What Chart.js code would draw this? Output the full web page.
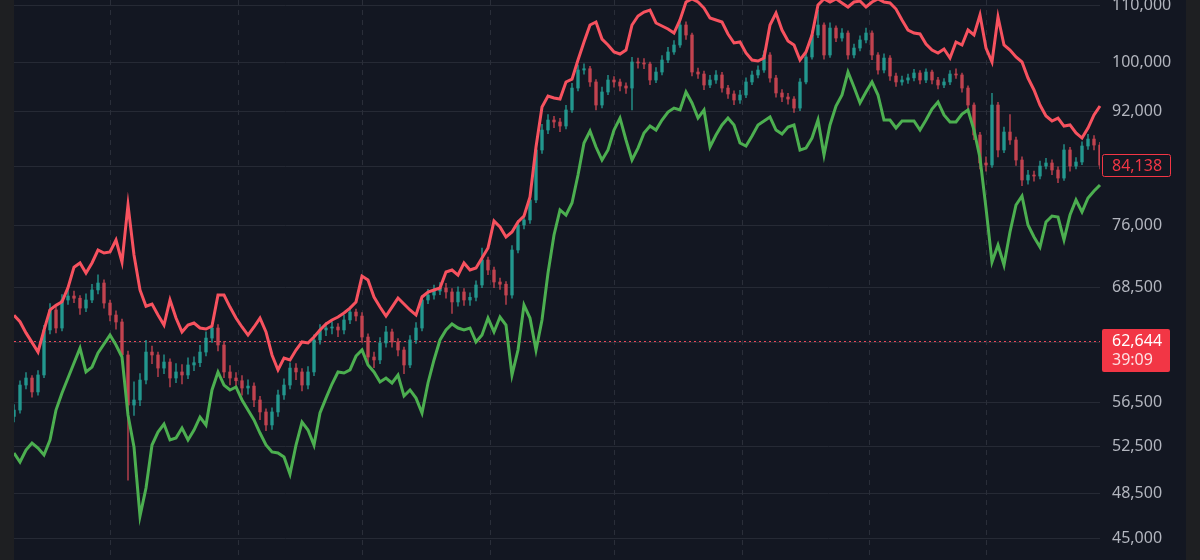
<!DOCTYPE html>
<html>
<head>
<meta charset="utf-8">
<script src="https://cdn.jsdelivr.net/npm/chart.js@4.4.1/dist/chart.umd.min.js"></script>
<style>
  html, body { margin: 0; padding: 0; width: 1200px; height: 560px; background: #1e1f22; overflow: hidden; }
  #wrap { position: absolute; left: 14px; top: 0; width: 1172px; height: 560px; background: #131722; }
</style>
</head>
<body>
<div id="wrap"><canvas id="chart"></canvas></div>
<script>
const upperBand = [
  65400, 64700, 63500, 62500, 61500, 63800, 66000, 66500, 66900, 68500,
  70900, 71400, 70200, 71400, 72970, 72600, 72730, 74200, 71500, 78700,
  72360, 68240, 66400, 66650, 65430, 64340, 67100, 65100, 63600, 64340,
  64560, 64020, 63910, 64230, 67660, 67660, 66310, 65100, 64130, 63270,
  64130, 65100, 63600, 61190, 59670, 60880, 60680, 61700, 62540, 62430,
  63060, 63810, 64450, 64890, 65210, 65650, 66200, 66880, 69850, 69390,
  67440, 66310, 65320, 66310, 67320, 66650, 65990, 65430, 67440, 68010,
  68240, 68460, 70330, 70560, 69970, 71400, 70560, 70800, 71990, 73210,
  76610, 75840, 74580, 75210, 76480, 77250, 79750, 86730, 92750, 94480,
  94160, 94000, 96730, 97200, 100360, 103440, 106430, 106970, 103950, 102920,
  101720, 101380, 102060, 106430, 108050, 108780, 109140, 106790, 106250, 105720,
  105010, 107330, 110620, 111200, 110620, 109500, 107680, 107330, 106970, 104840,
  103270, 103440, 101550, 100360, 100190, 100690, 106430, 108600, 105540, 103610,
  102920, 100360, 101720, 104660, 110060, 111200, 110620, 111200, 110430, 109690,
  110620, 110800, 109690, 110620, 111200, 110620, 110430, 109320, 107330, 105540,
  105010, 104840, 103090, 102060, 101550, 102230, 100690, 103440, 102920, 105540,
  104660, 108230, 102400, 100030, 107870, 102920, 102060, 100870, 100030, 97370,
  95440, 93060, 91360, 90600, 91050, 89840, 90000, 88800, 88050, 89540,
  91520, 92910
];

const lowerBand = [
  51910, 51130, 52170, 52790, 52350, 51740, 53060, 55790, 57410, 58870,
  60370, 61900, 59470, 59960, 61390, 62330, 63270, 62220, 60980, 55330,
  52430, 46700, 48950, 52610, 53770, 54500, 53060, 53230, 54130, 53060,
  53950, 55140, 54410, 57700, 59470, 58180, 57700, 57990, 56740, 55790,
  54870, 53680, 52610, 52000, 51910, 51560, 50110, 52610, 54680, 53950,
  52610, 55510, 56920, 58280, 59470, 59370, 59670, 61080, 61700, 60170,
  59470, 58480, 58870, 58380, 59170, 57120, 57700, 56920, 55510, 58380,
  60680, 62750, 63810, 64450, 64020, 63810, 64020, 62540, 63270, 65100,
  63600, 65210, 64340, 59170, 61700, 66540, 65100, 61700, 64890, 70210,
  74830, 78040, 77380, 78960, 82750, 87320, 89090, 86730, 84860, 86300,
  89240, 91050, 87760, 84860, 86580, 88800, 89840, 89240, 90750, 91980,
  92590, 92290, 95120, 93380, 91050, 92290, 86730, 88500, 90000, 91050,
  90000, 87320, 86880, 88350, 90000, 90600, 91210, 89240, 88650, 89690,
  90000, 86300, 86580, 88050, 90750, 85580, 90000, 92910, 94640, 98360,
  95910, 93380, 95120, 96730, 94640, 90750, 90750, 89540, 90600, 90600,
  90600, 89240, 90750, 92430, 93540, 91520, 90450, 90450, 91670, 92290,
  89240, 85140, 78290, 71520, 73580, 71160, 75210, 78690, 79890, 76100,
  74580, 73340, 76480, 77250, 77120, 74210, 77380, 79360, 77770, 79620,
  80560, 81380
];

const candleOpen = [
  55200, 55790, 58180, 58870, 57510, 59170, 63810, 65990, 64020, 67100,
  67550, 67300, 66200, 67100, 68240, 69040, 66760, 65430, 64670, 61190,
  56260, 56740, 58670, 61490, 61190, 59860, 60470, 58870, 59470, 59170,
  60170, 60400, 61490, 62950, 64020, 62220, 59470, 58870, 58600, 57890,
  58080, 56740, 55610, 54410, 55610, 57220, 58180, 59860, 59470, 58180,
  59470, 62750, 63810, 64020, 64130, 63810, 64890, 65760, 65320, 63060,
  60980, 60680, 62430, 63600, 62540, 61700, 60170, 62750, 64020, 67100,
  67660, 68120, 68460, 68010, 66880, 68010, 67100, 67400, 68810, 71760,
  70560, 69160, 68900, 67660, 72970, 76100, 76740, 79360, 86300, 89240,
  90750, 90450, 89840, 92290, 95750, 98690, 98900, 96730, 93060, 95120,
  97050, 96730, 96080, 95750, 100030, 99860, 99690, 97050, 98360, 100360,
  101720, 102920, 106430, 104660, 98360, 98030, 96240, 97050, 97870, 95750,
  94800, 93850, 94640, 96730, 97870, 98690, 101210, 97370, 94960, 94320,
  94000, 92590, 96730, 100870, 104660, 106430, 101210, 105890, 104130, 105010,
  101210, 102400, 103790, 105010, 101210, 98690, 100690, 97700, 96730, 97050,
  97400, 98200, 97050, 98360, 97050, 96240, 96730, 98030, 97870, 95750,
  93060, 88500, 84440, 84150, 93060, 86300, 88940, 87760, 84860, 82060,
  82750, 82610, 84010, 84440, 83450, 82330, 86300, 84010, 84580, 86880,
  87900, 87020
];

const candleClose = [
  55790, 58180, 58870, 57510, 59170, 63810, 65990, 64020, 67100, 67550,
  67300, 66200, 67100, 68240, 69040, 66760, 65430, 64670, 61190, 56260,
  56740, 58670, 61490, 61190, 59860, 60470, 58870, 59470, 59170, 60170,
  60400, 61490, 62950, 64020, 62220, 59470, 58870, 58600, 57890, 58080,
  56740, 55610, 54410, 55610, 57220, 58180, 59860, 59470, 58180, 59470,
  62750, 63810, 64020, 64130, 63810, 64890, 65760, 65320, 63060, 60980,
  60680, 62430, 63600, 62540, 61700, 60170, 62750, 64020, 67100, 67660,
  68120, 68460, 68010, 66880, 68010, 67100, 67400, 68810, 71760, 70560,
  69160, 68900, 67660, 72970, 76100, 76740, 79360, 86300, 89240, 90750,
  90450, 89840, 92290, 95750, 98690, 98900, 96730, 93060, 95120, 97050,
  96730, 96080, 95750, 100030, 99860, 99690, 97050, 98360, 100360, 101720,
  102920, 106430, 104660, 98360, 98030, 96240, 97050, 97870, 95750, 94800,
  93850, 94640, 96730, 97870, 98690, 101210, 97370, 94960, 94320, 94000,
  92590, 96730, 100870, 104660, 106430, 101210, 105890, 104130, 105010, 101210,
  102400, 103790, 105010, 101210, 98690, 100690, 97700, 96730, 97050, 97400,
  98200, 97050, 98360, 97050, 96240, 96730, 98030, 97870, 95750, 93060,
  88500, 84440, 84150, 93060, 86300, 88940, 87760, 84860, 82060, 82750,
  82610, 84010, 84440, 83450, 82330, 86300, 84010, 84580, 86880, 87900,
  87020, 84140
];

const candleHigh = [
  56300, 58600, 59400, 59100, 59600, 64300, 66700, 66300, 67700, 68300,
  68100, 67600, 67800, 68900, 70000, 69400, 67100, 65900, 65000, 61600,
  58500, 59300, 62700, 62100, 61500, 61200, 60800, 60300, 60200, 60900,
  61000, 62200, 63600, 64600, 64400, 62600, 60100, 59400, 59100, 58700,
  58400, 57100, 55900, 56000, 57700, 58800, 60400, 60300, 59800, 60000,
  63300, 64400, 64600, 64700, 64500, 65400, 66300, 66100, 65700, 63400,
  61500, 63000, 64200, 63900, 62900, 62000, 63200, 64600, 67600, 68300,
  68800, 69100, 69000, 68400, 68600, 68400, 67900, 69300, 73200, 72100,
  70900, 69600, 69200, 73500, 76700, 77300, 80000, 87000, 90100, 91600,
  91300, 91000, 93000, 96500, 99500, 99700, 99300, 97100, 95900, 97800,
  97600, 97200, 96600, 100800, 100700, 100600, 100000, 99100, 101100, 102500,
  103700, 107500, 107000, 105000, 99000, 98500, 97800, 98600, 98300, 96200,
  95300, 95400, 97400, 98500, 99400, 101900, 101600, 97800, 95500, 94900,
  94400, 97300, 101500, 105400, 109100, 106800, 106800, 106300, 105800, 105400,
  103100, 104500, 105900, 105400, 101600, 101400, 101100, 98200, 97700, 98000,
  98800, 98600, 98900, 98700, 97500, 97300, 98600, 98900, 98200, 96100,
  93400, 88900, 85300, 94900, 93500, 89700, 91600, 88200, 85300, 83400,
  83300, 84700, 85100, 84900, 83900, 87100, 86700, 85200, 87500, 88600,
  88400, 87400
];

const candleLow = [
  54700, 55500, 57800, 57000, 57200, 58900, 63400, 63500, 63700, 66600,
  66800, 65500, 65800, 66800, 67800, 66200, 64800, 63900, 60600, 49600,
  55300, 56200, 58300, 60300, 59000, 59300, 58000, 58400, 58300, 58800,
  59600, 60000, 61100, 62500, 61600, 58900, 58200, 57900, 57200, 57300,
  56100, 54900, 53900, 54000, 55200, 56800, 57800, 58700, 57600, 57800,
  59100, 62300, 63200, 63400, 63100, 63400, 64500, 64800, 62500, 60300,
  59900, 60300, 62000, 62000, 61100, 59300, 59900, 62400, 63700, 66700,
  67200, 67700, 67300, 65600, 66400, 66500, 66500, 67000, 68500, 70000,
  68500, 68300, 66600, 67300, 72600, 75600, 76300, 79000, 85800, 88700,
  89600, 89000, 89400, 91900, 95300, 98000, 96000, 92300, 92600, 94700,
  95900, 95300, 94900, 92300, 99000, 98900, 96300, 96600, 97900, 99900,
  101300, 102500, 103900, 97700, 97300, 95500, 95800, 96500, 95100, 94100,
  93100, 93300, 94200, 96300, 97400, 98300, 96700, 94300, 93600, 93200,
  91900, 92200, 96400, 100500, 104200, 100500, 100800, 103500, 103600, 100500,
  100700, 101900, 103300, 100400, 98000, 98200, 97000, 96000, 96200, 96500,
  96900, 96400, 96600, 96400, 95600, 95800, 96300, 97300, 95100, 92400,
  87800, 83600, 83300, 83800, 85300, 85900, 87100, 84100, 81300, 81500,
  81900, 82200, 83600, 82800, 81700, 82000, 83300, 83600, 84200, 86400,
  86300, 83600
];

const priceTicks = [45000, 48500, 52500, 56500, 62500, 68500, 76000, 84000, 92000, 100000, 110000];
const priceTickLabels = ["45,000", "48,500", "52,500", "56,500", "", "68,500", "76,000", "", "92,000", "100,000", "110,000"];
const periodStarts = [16, 37.3, 58, 79.3, 100, 121.3, 142.5, 162];
const lastClose = 84138;
const markPrice = 62644;
const countdown = "39:09";

const RED = "#f7525f";
const GREEN = "#4caf50";
const CANDLE_UP = "rgba(38,166,154,0.75)";
const CANDLE_DOWN = "rgba(214,72,84,0.75)";
const TEXT = "#b2b5be";
const FONT = "'Noto Sans', 'Open Sans', sans-serif";

const barIndex = candleClose.map((_, i) => i);
const candleColors = candleClose.map((c, i) => (c >= candleOpen[i] ? CANDLE_UP : CANDLE_DOWN));

const priceMarks = {
  id: "priceMarks",
  beforeDatasetsDraw(chart) {
    const { ctx, chartArea, scales } = chart;
    ctx.save();
    // dashed period separators
    ctx.strokeStyle = "#2a2e39";
    ctx.lineWidth = 1;
    ctx.setLineDash([5, 5]);
    periodStarts.forEach((v) => {
      const px = Math.round(scales.x.getPixelForValue(v)) + 0.5;
      ctx.beginPath();
      ctx.moveTo(px, chartArea.top);
      ctx.lineTo(px, chartArea.bottom);
      ctx.stroke();
    });
    // dotted price line
    const py = Math.round(scales.y.getPixelForValue(markPrice)) + 0.5;
    ctx.strokeStyle = "#e8475a";
    ctx.setLineDash([2, 3]);
    ctx.beginPath();
    ctx.moveTo(chartArea.left, py);
    ctx.lineTo(chartArea.right, py);
    ctx.stroke();
    ctx.restore();
  },
  afterDraw(chart) {
    const { ctx, scales } = chart;
    const y = scales.y;
    const bx = y.left + 2;
    const bw = 68;
    ctx.save();
    ctx.font = `16px ${FONT}`;
    ctx.textBaseline = "middle";
    ctx.textAlign = "left";

    const cy = y.getPixelForValue(lastClose);
    ctx.fillStyle = "#131722";
    ctx.fillRect(bx, cy - 11, bw, 22);
    ctx.strokeStyle = "#f23645";
    ctx.lineWidth = 1;
    ctx.beginPath();
    ctx.roundRect(bx + 0.5, Math.round(cy - 11) + 0.5, bw, 22, 2);
    ctx.stroke();
    ctx.fillStyle = "#f23645";
    ctx.fillText(lastClose.toLocaleString("en-US"), bx + 10, cy + 1);

    const my = y.getPixelForValue(markPrice);
    ctx.fillStyle = "#f23645";
    ctx.beginPath();
    ctx.roundRect(bx, my - 12, bw, 43, 2);
    ctx.fill();
    ctx.fillStyle = "#ffffff";
    ctx.fillText(markPrice.toLocaleString("en-US"), bx + 10, my);
    ctx.fillStyle = "rgba(255,255,255,0.85)";
    ctx.fillText(countdown, bx + 10, my + 19);
    ctx.restore();
  },
};

new Chart(document.getElementById("chart"), {
  type: "bar",
  data: {
    labels: barIndex,
    datasets: [
      {
        type: "line",
        label: "Upper",
        data: upperBand,
        borderColor: RED,
        borderWidth: 3,
        pointRadius: 0,
        tension: 0,
        order: 0,
      },
      {
        type: "line",
        label: "Lower",
        data: lowerBand,
        borderColor: GREEN,
        borderWidth: 3,
        pointRadius: 0,
        tension: 0,
        order: 0,
      },
      {
        label: "Body",
        data: candleOpen.map((o, i) => [o, candleClose[i]]),
        backgroundColor: candleColors,
        barThickness: 3,
        minBarLength: 1,
        order: 1,
      },
      {
        label: "Wick",
        data: candleLow.map((l, i) => [l, candleHigh[i]]),
        backgroundColor: candleColors,
        barThickness: 1,
        order: 2,
      },
    ],
  },
  options: {
    responsive: true,
    maintainAspectRatio: false,
    animation: false,
    layout: { padding: 0 },
    datasets: { bar: { grouped: false } },
    plugins: { legend: { display: false }, tooltip: { enabled: false } },
    scales: {
      x: { type: "category", offset: false, display: false },
      y: {
        type: "logarithmic",
        position: "right",
        min: 43382,
        max: 110990,
        afterBuildTicks: (s) => { s.ticks = priceTicks.map((v) => ({ value: v })); },
        afterFit: (s) => {
          s.width = 86;
          s.paddingTop = 0;
          s.paddingBottom = 0;
        },
        ticks: {
          autoSkip: false,
          padding: 12,
          color: TEXT,
          font: { family: FONT, size: 16 },
          callback: (v, i) => priceTickLabels[i],
        },
        grid: { color: "#262a35", drawTicks: false, lineWidth: 1 },
        border: { display: false },
      },
    },
  },
  plugins: [priceMarks],
});
</script>
</body>
</html>
